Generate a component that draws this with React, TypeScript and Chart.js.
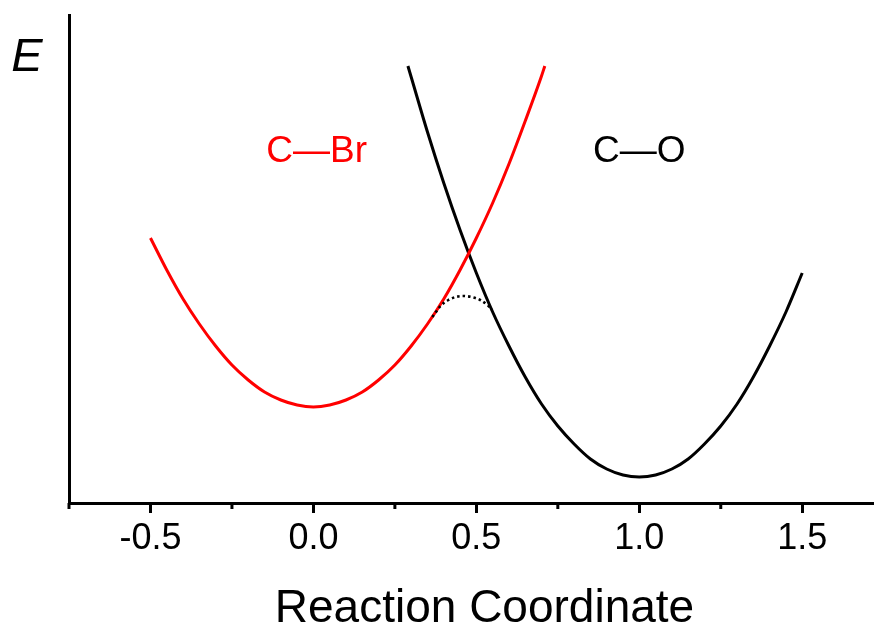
import React, { useEffect, useRef } from "react";
import { Chart, registerables } from "chart.js";

Chart.register(...registerables);

// ---- data ----
const xMajorTicks = [-0.5, 0, 0.5, 1.0, 1.5];
const xMinorTicks = [-0.75, -0.25, 0.25, 0.75, 1.25, 1.75];

const cBrX = [-0.5, -0.45, -0.4, -0.35, -0.3, -0.25, -0.2, -0.15, -0.1, -0.05, 0, 0.05, 0.1, 0.15, 0.2, 0.25, 0.3, 0.35, 0.4, 0.45, 0.5, 0.55, 0.6, 0.65, 0.7, 0.71];
const cBrE = [2.65, 2.33, 2.04, 1.79, 1.57, 1.38, 1.23, 1.11, 1.03, 0.98, 0.96, 0.98, 1.03, 1.11, 1.23, 1.38, 1.57, 1.79, 2.04, 2.33, 2.65, 3.0, 3.39, 3.82, 4.27, 4.37];

const cOX = [0.29, 0.3, 0.35, 0.4, 0.45, 0.5, 0.55, 0.6, 0.65, 0.7, 0.75, 0.8, 0.85, 0.9, 0.95, 1.0, 1.05, 1.1, 1.15, 1.2, 1.25, 1.3, 1.35, 1.4, 1.45, 1.5];
const cOE = [4.37, 4.26, 3.71, 3.2, 2.73, 2.3, 1.91, 1.57, 1.26, 0.99, 0.77, 0.59, 0.44, 0.34, 0.28, 0.26, 0.28, 0.34, 0.44, 0.59, 0.77, 0.99, 1.26, 1.57, 1.91, 2.3];

const tsX = [0.365, 0.39, 0.414, 0.436, 0.46, 0.485, 0.512, 0.534, 0.549];
const tsE = [1.86, 1.97, 2.03, 2.06, 2.07, 2.06, 2.03, 1.98, 1.93];

const curveLabels = ["C\u2014Br", "C\u2014O"];
const curveLabelX = [0.01, 1.0];
const curveLabelE = [3.51, 3.51];

const xAxisTitle = "Reaction Coordinate";
const yAxisTitle = "E";

const FONT = '"Liberation Sans", Arial, Helvetica, sans-serif';

const pts = (xs: number[], ys: number[]) => xs.map((x, i) => ({ x, y: ys[i] }));

const overlayPlugin = {
  id: "overlay",
  afterDraw(chart: any) {
    const { ctx, chartArea, scales } = chart;
    const xs = scales.x;
    const ys = scales.y;
    ctx.save();
    // minor ticks
    ctx.strokeStyle = "#000";
    ctx.lineWidth = 3;
    xMinorTicks.forEach((v) => {
      const px = xs.getPixelForValue(v);
      ctx.beginPath();
      ctx.moveTo(px, chartArea.bottom);
      ctx.lineTo(px, chartArea.bottom + 6);
      ctx.stroke();
    });
    // E label
    ctx.fillStyle = "#000";
    ctx.font = `italic 47px ${FONT}`;
    ctx.textAlign = "center";
    ctx.textBaseline = "alphabetic";
    ctx.fillText(yAxisTitle, chartArea.left - 42, chartArea.top + 56);
    // curve labels
    const colors = ["#ff0000", "#000000"];
    ctx.font = `37px ${FONT}`;
    ctx.textBaseline = "middle";
    curveLabels.forEach((t, i) => {
      ctx.fillStyle = colors[i];
      ctx.fillText(t, xs.getPixelForValue(curveLabelX[i]), ys.getPixelForValue(curveLabelE[i]));
    });
    ctx.restore();
  },
};

export default function App() {
  const ref = useRef<HTMLCanvasElement | null>(null);
  useEffect(() => {
    if (!ref.current) return;
    const chart = new Chart(ref.current, {
      type: "scatter",
      data: {
        datasets: [
          {
            data: pts(tsX, tsE),
            showLine: true,
            borderColor: "#000",
            borderWidth: 2.6,
            borderDash: [2.5, 3],
            pointRadius: 0,
            cubicInterpolationMode: "monotone",
          } as any,
          {
            data: pts(cBrX, cBrE),
            showLine: true,
            borderColor: "#ff0000",
            borderWidth: 3,
            pointRadius: 0,
            cubicInterpolationMode: "monotone",
          } as any,
          {
            data: pts(cOX, cOE),
            showLine: true,
            borderColor: "#000",
            borderWidth: 3,
            pointRadius: 0,
            cubicInterpolationMode: "monotone",
          } as any,
        ],
      },
      options: {
        animation: false,
        responsive: false,
        devicePixelRatio: 1,
        layout: { padding: { top: 15, right: 2, left: 0, bottom: 0 } },
        plugins: {
          legend: { display: false },
          tooltip: { enabled: false },
        },
        scales: {
          x: {
            type: "linear",
            min: -0.75,
            max: 1.8,
            afterFit: (s: any) => {
              s.height = 123;
            },
            afterBuildTicks: (axis: any) => {
              axis.ticks = xMajorTicks.map((v) => ({ value: v }));
            },
            grid: {
              display: true,
              drawOnChartArea: false,
              drawTicks: true,
              tickLength: 10,
              tickWidth: 3,
              tickColor: "#000",
            },
            border: { display: true, color: "#000", width: 3 },
            ticks: {
              color: "#000",
              font: { family: FONT, size: 36 },
              padding: 4,
              maxRotation: 0,
              autoSkip: false,
              callback: (v: any) => Number(v).toFixed(1),
            },
            title: {
              display: true,
              text: xAxisTitle,
              color: "#000",
              font: { family: FONT, size: 46, lineHeight: 0.8 },
              padding: { top: 0, bottom: -2 },
            },
          },
          y: {
            type: "linear",
            min: 0,
            max: 4.88,
            afterFit: (s: any) => {
              s.width = 69;
            },
            grid: { display: false },
            ticks: { display: false },
            border: { display: true, color: "#000", width: 3 },
          },
        },
      } as any,
      plugins: [overlayPlugin],
    });
    return () => chart.destroy();
  }, []);

  return (
    <div
      style={{
        position: "fixed",
        left: 0,
        top: 0,
        width: 874,
        height: 626,
        overflow: "hidden",
        background: "#fff",
      }}
    >
      <canvas ref={ref} width={902} height={626} style={{ width: 902, height: 626, display: "block" }} />
    </div>
  );
}
